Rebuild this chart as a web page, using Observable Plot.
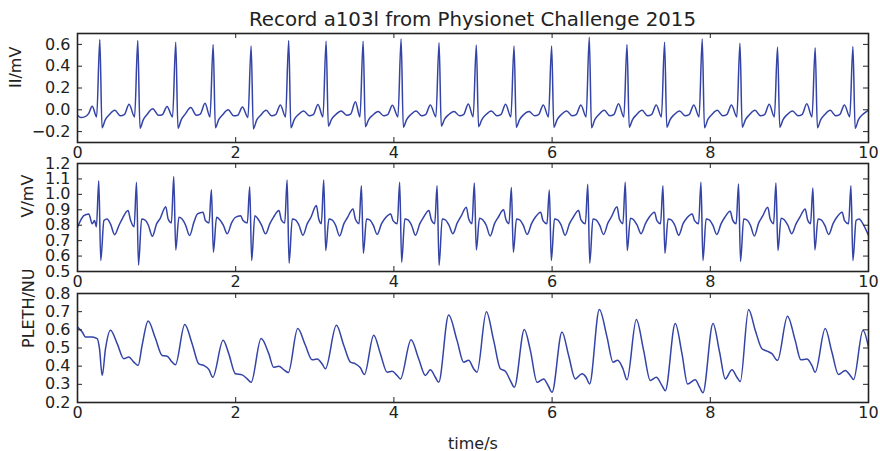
<!DOCTYPE html>
<html>
<head>
<meta charset="utf-8">
<script src="https://cdn.jsdelivr.net/npm/d3@7"></script>
<script src="https://cdn.jsdelivr.net/npm/@observablehq/plot@0.6"></script>
<style>
  body { margin: 0; background: #fff; }
  #chart { position: relative; width: 880px; height: 451px; overflow: hidden; font-family: "DejaVu Sans", sans-serif; color: #222; }
  #title { position: absolute; left: 77px; width: 791px; top: 8px; text-align: center; font-size: 19.8px; line-height: normal; white-space: nowrap; }
</style>
</head>
<body>
<div id="chart"><div id="title">Record a103l from Physionet Challenge 2015</div></div>
<script>
// Record a103l, 10 s excerpt: ECG lead II, ECG lead V and the photoplethysmogram.
// Each series is a list of [time in s, value] samples.

const xTicks = [0, 2, 4, 6, 8, 10];

const iiDomain = [-0.3, 0.7];
const iiTicks = [-0.2, 0, 0.2, 0.4, 0.6];
const ecgII = [
  [0, -0.05], [0.04, -0.07], [0.09, -0.065], [0.14, -0.035], [0.186, 0.033],
  [0.242, -0.065], [0.282, 0.645], [0.310, -0.165], [0.352, -0.09], [0.402, -0.045], [0.472, -0.005], [0.542, -0.055], [0.592, -0.045], [0.652, 0.05],
  [0.722, -0.065], [0.762, 0.636], [0.790, -0.17], [0.832, -0.09], [0.882, -0.04], [0.952, 0.01], [1.022, -0.05], [1.072, -0.045], [1.132, 0.03],
  [1.202, -0.065], [1.242, 0.62], [1.270, -0.17], [1.312, -0.09], [1.362, -0.04], [1.432, 0.02], [1.502, -0.05], [1.552, -0.04], [1.612, 0.06],
  [1.675, -0.065], [1.715, 0.60], [1.743, -0.165], [1.785, -0.09], [1.835, -0.045], [1.905, 0.0], [1.975, -0.055], [2.025, -0.05], [2.085, 0.025],
  [2.155, -0.07], [2.195, 0.585], [2.223, -0.175], [2.265, -0.095], [2.315, -0.05], [2.385, -0.005], [2.455, -0.055], [2.505, -0.045], [2.565, 0.045],
  [2.630, -0.065], [2.670, 0.636], [2.698, -0.165], [2.740, -0.09], [2.790, -0.045], [2.860, -0.01], [2.930, -0.055], [2.980, -0.045], [3.040, 0.048],
  [3.103, -0.065], [3.143, 0.63], [3.171, -0.15], [3.213, -0.085], [3.263, -0.045], [3.333, -0.01], [3.403, -0.05], [3.453, -0.04], [3.513, 0.075],
  [3.571, -0.065], [3.611, 0.63], [3.639, -0.155], [3.681, -0.09], [3.731, -0.05], [3.801, -0.015], [3.871, -0.055], [3.921, -0.045], [3.981, 0.042],
  [4.051, -0.065], [4.091, 0.65], [4.119, -0.16], [4.161, -0.09], [4.211, -0.045], [4.281, -0.01], [4.351, -0.055], [4.401, -0.045], [4.461, 0.045],
  [4.531, -0.065], [4.571, 0.615], [4.599, -0.15], [4.641, -0.085], [4.691, -0.045], [4.761, -0.015], [4.831, -0.055], [4.881, -0.045], [4.941, 0.054],
  [5.002, -0.065], [5.042, 0.594], [5.070, -0.155], [5.112, -0.09], [5.162, -0.045], [5.232, -0.01], [5.302, -0.055], [5.352, -0.045], [5.412, 0.05],
  [5.479, -0.065], [5.519, 0.585], [5.547, -0.16], [5.589, -0.09], [5.639, -0.045], [5.709, -0.015], [5.779, -0.055], [5.829, -0.045], [5.889, 0.045],
  [5.954, -0.065], [5.994, 0.585], [6.022, -0.16], [6.064, -0.09], [6.114, -0.045], [6.184, -0.01], [6.254, -0.055], [6.304, -0.045], [6.364, 0.045],
  [6.430, -0.065], [6.470, 0.666], [6.498, -0.165], [6.540, -0.09], [6.590, -0.045], [6.660, -0.005], [6.730, -0.055], [6.780, -0.045], [6.840, 0.055],
  [6.907, -0.065], [6.947, 0.60], [6.975, -0.16], [7.017, -0.09], [7.067, -0.045], [7.137, -0.005], [7.207, -0.055], [7.257, -0.045], [7.317, 0.045],
  [7.382, -0.065], [7.422, 0.62], [7.450, -0.16], [7.492, -0.09], [7.542, -0.045], [7.612, -0.01], [7.682, -0.055], [7.732, -0.045], [7.792, 0.045],
  [7.858, -0.065], [7.898, 0.65], [7.926, -0.165], [7.968, -0.09], [8.018, -0.045], [8.088, -0.005], [8.158, -0.055], [8.208, -0.045], [8.268, 0.045],
  [8.335, -0.065], [8.375, 0.61], [8.403, -0.16], [8.445, -0.09], [8.495, -0.045], [8.565, -0.005], [8.635, -0.055], [8.685, -0.045], [8.745, 0.05],
  [8.810, -0.065], [8.850, 0.575], [8.878, -0.16], [8.920, -0.09], [8.970, -0.045], [9.040, -0.01], [9.110, -0.055], [9.160, -0.045], [9.220, 0.055],
  [9.286, -0.065], [9.326, 0.57], [9.354, -0.165], [9.396, -0.09], [9.446, -0.045], [9.516, -0.005], [9.586, -0.055], [9.636, -0.045], [9.696, 0.045],
  [9.763, -0.065], [9.803, 0.58], [9.831, -0.17], [9.873, -0.09], [9.923, -0.045], [10.0, -0.005]
];

const vDomain = [0.5, 1.2];
const vTicks = [0.5, 0.6, 0.7, 0.8, 0.9, 1.0, 1.1, 1.2];
const ecgV = [
  [0, 0.787], [0.038, 0.83], [0.08, 0.862], [0.143, 0.873], [0.186, 0.809], [0.215, 0.83],
  [0.239, 0.79], [0.269, 1.089], [0.294, 0.571], [0.334, 0.83], [0.374, 0.841], [0.419, 0.805], [0.469, 0.739], [0.524, 0.798], [0.569, 0.845], [0.639, 0.895], [0.669, 0.835],
  [0.716, 0.79], [0.746, 1.078], [0.771, 0.541], [0.811, 0.84], [0.851, 0.835], [0.896, 0.80], [0.946, 0.728], [1.001, 0.81], [1.046, 0.845], [1.116, 0.92], [1.146, 0.84],
  [1.187, 0.815], [1.217, 1.115], [1.242, 0.64], [1.282, 0.851], [1.322, 0.84], [1.367, 0.80], [1.417, 0.733], [1.472, 0.82], [1.517, 0.873], [1.587, 0.884], [1.617, 0.83],
  [1.663, 0.815], [1.693, 1.03], [1.718, 0.625], [1.758, 0.851], [1.798, 0.835], [1.843, 0.80], [1.893, 0.744], [1.948, 0.815], [1.993, 0.85], [2.063, 0.862], [2.093, 0.83],
  [2.147, 0.815], [2.177, 1.05], [2.202, 0.571], [2.242, 0.862], [2.282, 0.84], [2.327, 0.80], [2.377, 0.744], [2.432, 0.81], [2.477, 0.851], [2.547, 0.895], [2.577, 0.835],
  [2.620, 0.815], [2.650, 1.093], [2.675, 0.554], [2.715, 0.84], [2.755, 0.835], [2.800, 0.80], [2.850, 0.735], [2.905, 0.81], [2.950, 0.85], [3.020, 0.927], [3.050, 0.84],
  [3.083, 0.81], [3.113, 1.093], [3.138, 0.636], [3.178, 0.84], [3.218, 0.835], [3.263, 0.80], [3.313, 0.73], [3.368, 0.81], [3.413, 0.85], [3.483, 0.905], [3.513, 0.84],
  [3.559, 0.81], [3.589, 1.056], [3.614, 0.619], [3.654, 0.84], [3.694, 0.835], [3.739, 0.80], [3.789, 0.74], [3.844, 0.81], [3.889, 0.845], [3.959, 0.873], [3.989, 0.83],
  [4.043, 0.81], [4.073, 1.078], [4.098, 0.56], [4.138, 0.84], [4.178, 0.835], [4.223, 0.80], [4.273, 0.735], [4.328, 0.81], [4.373, 0.85], [4.443, 0.895], [4.473, 0.835],
  [4.516, 0.81], [4.546, 1.056], [4.571, 0.539], [4.611, 0.84], [4.651, 0.835], [4.696, 0.80], [4.746, 0.745], [4.801, 0.815], [4.846, 0.855], [4.916, 0.916], [4.946, 0.84],
  [4.987, 0.81], [5.017, 1.073], [5.042, 0.64], [5.082, 0.845], [5.122, 0.835], [5.167, 0.80], [5.217, 0.73], [5.272, 0.81], [5.317, 0.85], [5.387, 0.90], [5.417, 0.835],
  [5.455, 0.81], [5.485, 1.045], [5.510, 0.625], [5.550, 0.84], [5.590, 0.835], [5.635, 0.80], [5.685, 0.74], [5.740, 0.81], [5.785, 0.85], [5.855, 0.884], [5.885, 0.83],
  [5.935, 0.81], [5.965, 1.028], [5.990, 0.571], [6.030, 0.84], [6.070, 0.835], [6.115, 0.80], [6.165, 0.735], [6.220, 0.81], [6.265, 0.85], [6.335, 0.895], [6.365, 0.835],
  [6.421, 0.81], [6.451, 1.065], [6.476, 0.554], [6.516, 0.84], [6.556, 0.835], [6.601, 0.80], [6.651, 0.74], [6.706, 0.815], [6.751, 0.855], [6.821, 0.92], [6.851, 0.84],
  [6.895, 0.81], [6.925, 1.078], [6.950, 0.636], [6.990, 0.845], [7.030, 0.835], [7.075, 0.80], [7.125, 0.745], [7.180, 0.81], [7.225, 0.85], [7.295, 0.884], [7.325, 0.83],
  [7.371, 0.81], [7.401, 1.056], [7.426, 0.619], [7.466, 0.84], [7.506, 0.835], [7.551, 0.80], [7.601, 0.735], [7.656, 0.81], [7.701, 0.845], [7.771, 0.873], [7.801, 0.83],
  [7.852, 0.81], [7.882, 1.078], [7.907, 0.571], [7.947, 0.84], [7.987, 0.835], [8.032, 0.80], [8.082, 0.74], [8.137, 0.81], [8.182, 0.85], [8.252, 0.89], [8.282, 0.835],
  [8.327, 0.81], [8.357, 1.067], [8.382, 0.565], [8.422, 0.84], [8.462, 0.835], [8.507, 0.80], [8.557, 0.73], [8.612, 0.815], [8.657, 0.855], [8.727, 0.916], [8.757, 0.84],
  [8.800, 0.81], [8.830, 1.073], [8.855, 0.636], [8.895, 0.845], [8.935, 0.835], [8.980, 0.80], [9.030, 0.745], [9.085, 0.81], [9.130, 0.85], [9.200, 0.905], [9.230, 0.835],
  [9.267, 0.81], [9.297, 1.041], [9.322, 0.64], [9.362, 0.84], [9.402, 0.835], [9.447, 0.80], [9.497, 0.74], [9.552, 0.81], [9.597, 0.85], [9.667, 0.884], [9.697, 0.83],
  [9.748, 0.81], [9.778, 1.056], [9.803, 0.571], [9.843, 0.83], [9.883, 0.84], [9.928, 0.81], [10.0, 0.733]
];

const plethDomain = [0.2, 0.8];
const plethTicks = [0.2, 0.3, 0.4, 0.5, 0.6, 0.7, 0.8];
const pleth = [
  [0, 0.616], [0.06, 0.588], [0.10, 0.561], [0.185, 0.561], [0.249, 0.552], [0.278, 0.496], [0.312, 0.348],
  [0.354, 0.496], [0.417, 0.598], [0.502, 0.524], [0.585, 0.441], [0.649, 0.45], [0.712, 0.422], [0.767, 0.404],
  [0.817, 0.515], [0.893, 0.648], [0.986, 0.552], [1.07, 0.459], [1.133, 0.455], [1.197, 0.422], [1.238, 0.408],
  [1.356, 0.629], [1.449, 0.524], [1.533, 0.413], [1.596, 0.404], [1.66, 0.382], [1.71, 0.339],
  [1.841, 0.542], [1.912, 0.469], [1.997, 0.358], [2.081, 0.352], [2.145, 0.33], [2.195, 0.311],
  [2.321, 0.552], [2.418, 0.469], [2.48, 0.394], [2.545, 0.40], [2.61, 0.38], [2.665, 0.365],
  [2.784, 0.607], [2.881, 0.515], [2.966, 0.435], [3.029, 0.439], [3.092, 0.413], [3.134, 0.386],
  [3.273, 0.625], [3.366, 0.515], [3.45, 0.422], [3.513, 0.413], [3.576, 0.391], [3.627, 0.354],
  [3.745, 0.57], [3.829, 0.469], [3.914, 0.367], [3.977, 0.372], [4.04, 0.349], [4.082, 0.33],
  [4.217, 0.546], [4.313, 0.441], [4.398, 0.349], [4.461, 0.38], [4.524, 0.339], [4.566, 0.311],
  [4.692, 0.681], [4.798, 0.542], [4.882, 0.422], [4.945, 0.432], [5.008, 0.386], [5.051, 0.367],
  [5.169, 0.699], [5.261, 0.542], [5.346, 0.386], [5.409, 0.372], [5.472, 0.321], [5.523, 0.284],
  [5.649, 0.602], [5.725, 0.487], [5.81, 0.311], [5.893, 0.33], [5.956, 0.288], [5.999, 0.256],
  [6.125, 0.588], [6.209, 0.459], [6.293, 0.33], [6.378, 0.358], [6.43, 0.339], [6.474, 0.302],
  [6.597, 0.712], [6.694, 0.561], [6.77, 0.422], [6.828, 0.432], [6.896, 0.386], [6.947, 0.325],
  [7.065, 0.657], [7.157, 0.487], [7.241, 0.321], [7.317, 0.339], [7.389, 0.293], [7.431, 0.265],
  [7.557, 0.635], [7.642, 0.469], [7.713, 0.302], [7.81, 0.325], [7.865, 0.284], [7.907, 0.253],
  [8.034, 0.635], [8.117, 0.478], [8.189, 0.33], [8.274, 0.38], [8.337, 0.339], [8.379, 0.315],
  [8.484, 0.712], [8.568, 0.598], [8.653, 0.496], [8.716, 0.483], [8.779, 0.469], [8.85, 0.432],
  [8.976, 0.675], [9.073, 0.542], [9.145, 0.435], [9.221, 0.439], [9.284, 0.404], [9.326, 0.367],
  [9.453, 0.607], [9.537, 0.478], [9.621, 0.354], [9.706, 0.376], [9.769, 0.349], [9.811, 0.326],
  [9.93, 0.598], [10.0, 0.505]
];

const LINE = "#3343a6";
const INK = "#222";
const WIDTH = 880, ML = 77, MR = 12;
const fmt1 = d3.format(".1f");

function panel({data, yDomain, yTicks, label, labelDx, top, innerH, mt, mb, extra = []}) {
  const innerW = WIDTH - ML - MR;
  return Plot.plot({
    width: WIDTH,
    height: mt + innerH + mb,
    marginLeft: ML, marginRight: MR, marginTop: mt, marginBottom: mb,
    style: {
      position: "absolute", left: "0px", top: `${top}px`, maxWidth: "none",
      background: "transparent", overflow: "visible",
      fontFamily: "'DejaVu Sans', sans-serif", fontSize: "16px", color: INK
    },
    x: {domain: [0, 10]},
    y: {domain: yDomain},
    marks: [
      Plot.line(data, {x: d => d[0], y: d => d[1], stroke: LINE, strokeWidth: 1.5, curve: "monotone-x", clip: true}),
      // inward ticks on all four sides
      Plot.tickX(xTicks, {x: d => d, insetBottom: innerH - 5, stroke: INK}),
      Plot.tickX(xTicks, {x: d => d, insetTop: innerH - 5, stroke: INK}),
      Plot.tickY(yTicks, {y: d => d, insetRight: innerW - 5, stroke: INK}),
      Plot.tickY(yTicks, {y: d => d, insetLeft: innerW - 5, stroke: INK}),
      Plot.axisX({ticks: xTicks, tickSize: 0, tickPadding: 4, tickFormat: d3.format("d")}),
      Plot.axisY({ticks: yTicks, tickSize: 0, tickPadding: 7, tickFormat: fmt1}),
      Plot.text([label], {frameAnchor: "left", rotate: -90, dx: labelDx, text: d => d, fontSize: 16}),
      Plot.frame({stroke: INK, strokeWidth: 1.6}),
      ...extra
    ]
  });
}

const chart = document.getElementById("chart");

chart.appendChild(panel({
  data: ecgII, yDomain: iiDomain, yTicks: iiTicks, label: "II/mV", labelDx: -62,
  top: 0, innerH: 109, mt: 33, mb: 30
}));

chart.appendChild(panel({
  data: ecgV, yDomain: vDomain, yTicks: vTicks, label: "V/mV", labelDx: -50,
  top: 153, innerH: 108, mt: 10, mb: 30
}));

chart.appendChild(panel({
  data: pleth, yDomain: plethDomain, yTicks: plethTicks, label: "PLETH/NU", labelDx: -49,
  top: 283, innerH: 109, mt: 10, mb: 49,
  extra: [Plot.text(["time/s"], {frameAnchor: "bottom", dy: 46, text: d => d, fontSize: 16})]
}));
</script>
</body>
</html>
